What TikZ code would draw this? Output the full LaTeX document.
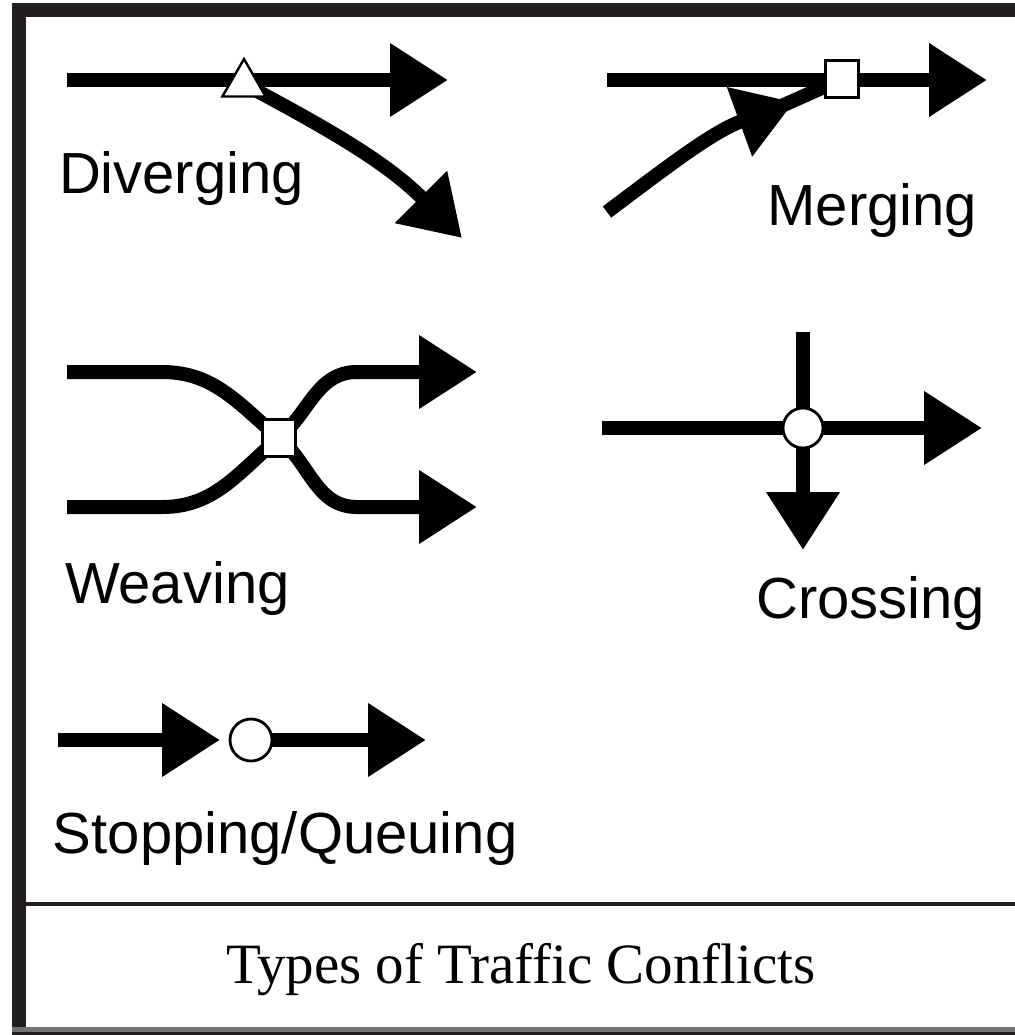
\documentclass[tikz,border=0pt]{standalone}
\usepackage{fontspec}
\newfontfamily\lblfont{Liberation Sans}
\newfontfamily\ttlfont{Liberation Serif}
\usepackage{tikz}
\usetikzlibrary{arrows.meta,shapes.geometric}
\definecolor{frame}{HTML}{231F20}

\begin{document}
\begin{tikzpicture}[->,>={Triangle[length=29pt,width=35pt]},x=0.5pt,y=-0.5pt,
	line width=7pt]
	\tikzstyle{trimark}=[regular polygon,regular polygon sides=3,draw,fill=white,line width=1.2pt,minimum size=25pt,inner sep=0pt]
	\tikzstyle{sqmark}=[rectangle,draw,fill=white,line width=1.4pt,minimum width=16.5pt,minimum height=18.5pt,inner sep=0pt]
	\tikzstyle{circmark}=[circle,draw,fill=white,line width=1.4pt,minimum size=20pt,inner sep=0pt]
	\tikzstyle{lbl}=[font=\lblfont\fontsize{29}{32}\selectfont,inner sep=0pt]
	\tikzstyle{ttl}=[font=\ttlfont\fontsize{28.5}{32}\selectfont,inner sep=0pt]
	
	\useasboundingbox (0,0) rectangle (1015,1035);
	\fill[frame] (12,3) rectangle (1015,17);
	\fill[frame] (12,3) rectangle (26,1035);
	\fill[frame] (12,902) rectangle (1015,906);
	\fill[black!55] (12,1027) rectangle (1015,1032);
	\fill[frame] (12,1032) rectangle (1015,1035);
	
	% diverging
	\coordinate (d0) at (67,80);
	\coordinate (d1) at (448,80);
	\coordinate (dv) at (244,84);
	\coordinate (d2) at (462,238);
	\draw (d0) -- (d1);
	\draw (dv) to[out=-28,in=135] (d2);
	\node[trimark] (dvmark) at (dv) {};
	\node[lbl,anchor=base west] (dtext) at (52,193) {Diverging};
	
	% merging
	\coordinate (m0) at (607,80);
	\coordinate (m1) at (987,80);
	\coordinate (m2) at (607,212);
	\coordinate (m3) at (794,102);
	\coordinate (m4) at (768,112);
	\coordinate (mq) at (842,79);
	\draw (m0) -- (m1);
	\draw[-] (m4) -- (mq);
	\draw (m2) to[out=37,in=200] (m3);
	\node[sqmark] (mqmark) at (mq) {};
	\node[lbl,anchor=base east] (mtext) at (984,225) {Merging};
	
	% weaving
	\coordinate (wa0) at (67,372);
	\coordinate (wa1) at (162,372);
	\coordinate (wa2) at (357,507);
	\coordinate (wa3) at (477,507);
	\coordinate (wb0) at (67,507);
	\coordinate (wb1) at (162,507);
	\coordinate (wb2) at (357,372);
	\coordinate (wb3) at (477,372);
	\coordinate (wv) at (279,438);
	\draw (wa0) -- (wa1) to[out=0,in=140] (wv) to[out=-40,in=180] (wa2) -- (wa3);
	\draw (wb0) -- (wb1) to[out=0,in=-140] (wv) to[out=40,in=180] (wb2) -- (wb3);
	\node[sqmark] (wvmark) at (wv) {};
	\node[lbl,anchor=base west] (wtext) at (58,603) {Weaving};
	
	% crossing
	\coordinate (c0) at (602,428);
	\coordinate (c1) at (982,428);
	\coordinate (c2) at (803,332);
	\coordinate (c3) at (803,550);
	\coordinate (cx) at (803,428);
	\draw (c0) -- (c1);
	\draw (c2) -- (c3);
	\node[circmark] (cxmark) at (cx) {};
	\node[lbl,anchor=base east] (ctext) at (992,618) {Crossing};
	
	% stopping
	\coordinate (s0) at (58,740);
	\coordinate (s1) at (220,740);
	\coordinate (sc) at (251,740);
	\coordinate (s2) at (426,740);
	\draw (s0) -- (s1);
	\draw (sc) -- (s2);
	\node[circmark,minimum size=21pt] (scmark) at (sc) {};
	\node[lbl,anchor=base west] (stext) at (46,853) {Stopping/Queuing};
	
	\node[ttl,anchor=base] (title) at (521,983) {Types of Traffic Conflicts};
\end{tikzpicture}
\end{document}
